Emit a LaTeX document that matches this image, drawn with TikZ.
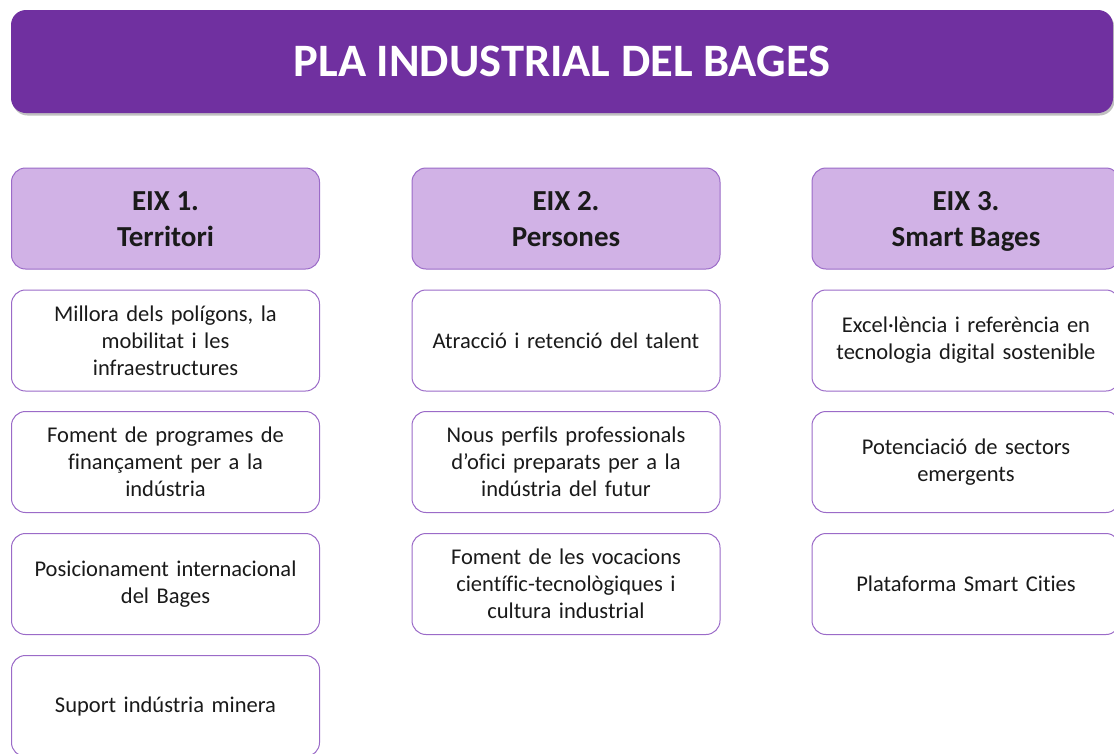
\documentclass[tikz,border=0pt]{standalone}
\usepackage{fontspec}
\setmainfont{Carlito}[Ligatures=CommonOff]
\usetikzlibrary{shadows,positioning}
\definecolor{titlepurple}{HTML}{7030A0}
\definecolor{headfill}{HTML}{D1B2E6}
\definecolor{boxline}{HTML}{9B6BC8}
\definecolor{txt}{HTML}{1A1A1A}
\begin{document}
\begin{tikzpicture}[x=1pt,y=-1pt,
  titlebox/.style={fill=titlepurple, rounded corners=15pt, minimum width=1102pt, minimum height=103pt,
     text=white, font=\bfseries\fontsize{46.5}{52}\selectfont,
     drop shadow={shadow xshift=1.5pt, shadow yshift=-2.5pt, opacity=0.35, fill=black!70}},
  headbox/.style={fill=headfill, draw=boxline, line width=1pt, rounded corners=14pt,
     minimum width=308pt, minimum height=101pt, text=txt, align=center,
     font=\bfseries\fontsize{29}{36}\selectfont},
  headtext/.style={text=txt, align=center, font=\bfseries\fontsize{29}{36}\selectfont},
  itembox/.style={fill=white, draw=boxline, line width=1pt, rounded corners=14pt,
     minimum width=308pt, minimum height=101pt, text=txt, align=center, text width=296pt,
     font=\fontsize{22.5}{27}\selectfont}
]
\useasboundingbox (0,0) rectangle (1114,753);
\fill[white] (0,0) rectangle (1114,753);
\node[titlebox] (title) at (562,61.5) {PLA INDUSTRIAL DEL BAGES};

\node[headbox] (h1) at (165.5,218.5) {};
\node[headbox] (h2) at (566,218.5) {};
\node[headbox] (h3) at (966,218.5) {};
\node[headtext] (t1) at ([yshift=-2.5pt]h1.center) {\strut EIX 1.\\Territori\strut};
\node[headtext] (t2) at ([yshift=-2.5pt]h2.center) {\strut EIX 2.\\Persones\strut};
\node[headtext] (t3) at ([yshift=-2.5pt]h3.center) {\strut EIX 3.\\Smart Bages\strut};

\node[itembox] (a1) at (165.5,340.5) {Millora dels polígons, la\\mobilitat i les\\infraestructures};
\node[itembox] (a2) at (165.5,462) {Foment de programes de\\finançament per a la\\indústria};
\node[itembox] (a3) at (165.5,584) {Posicionament internacional\\del Bages};
\node[itembox] (a4) at (165.5,706) {Suport indústria minera};

\node[itembox] (b1) at (566,340.5) {Atracció i retenció del talent};
\node[itembox] (b2) at (566,462) {Nous perfils professionals\\d’ofici preparats per a la\\indústria del futur};
\node[itembox] (b3) at (566,584) {Foment de les vocacions\\científic-tecnològiques i\\cultura industrial};

\node[itembox] (c1) at (966,340.5) {Excel·lència i referència en\\tecnologia digital sostenible};
\node[itembox] (c2) at (966,462) {Potenciació de sectors\\emergents};
\node[itembox] (c3) at (966,584) {Plataforma Smart Cities};
\end{tikzpicture}
\end{document}
